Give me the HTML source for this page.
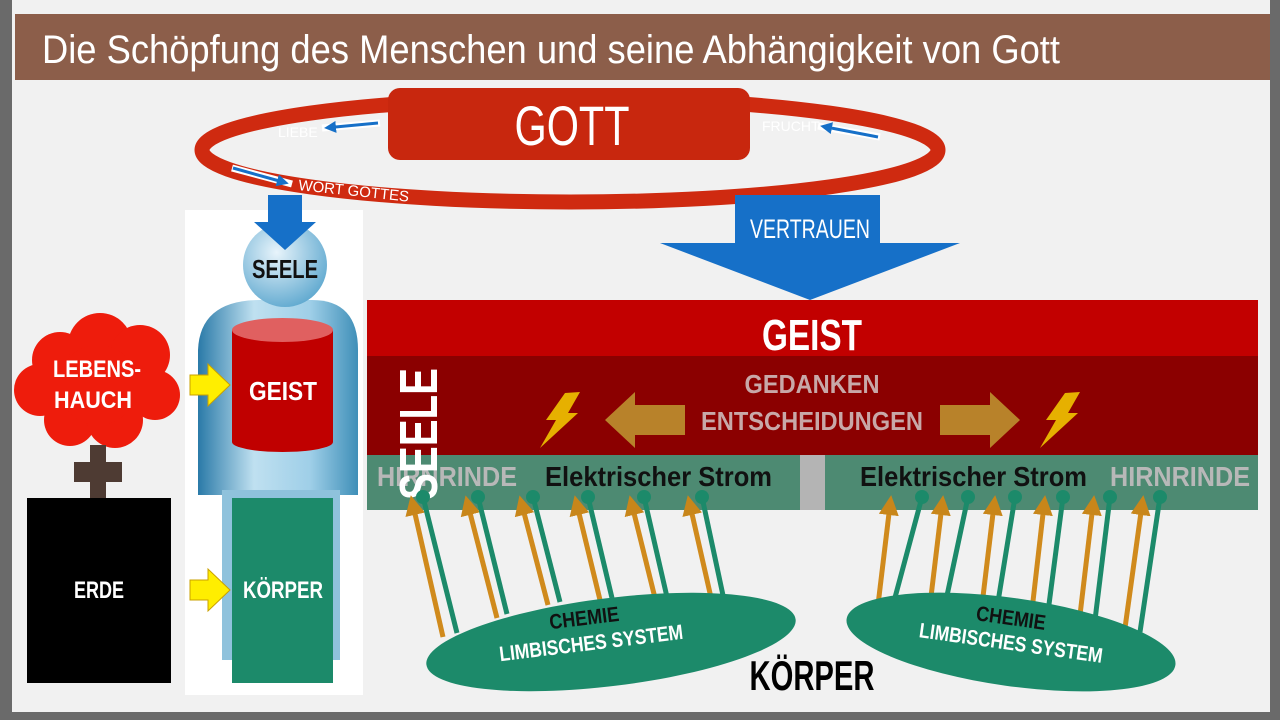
<!DOCTYPE html>
<html><head><meta charset="utf-8"><style>
html,body{margin:0;padding:0;width:1280px;height:720px;overflow:hidden;background:#555;}
svg{display:block;font-family:"Liberation Sans Narrow","Liberation Sans",sans-serif;}
</style></head><body>
<svg width="1280" height="720" viewBox="0 0 1280 720">
<defs>
<marker id="ao" markerWidth="4" markerHeight="4" refX="2" refY="2" orient="auto"><path d="M0,0 L4,2 L0,4z" fill="#c8861a"/></marker>
<marker id="ab" markerWidth="4" markerHeight="4" refX="2" refY="2" orient="auto"><path d="M0,0 L4,2 L0,4z" fill="#1670c8"/></marker>
<radialGradient id="hg" cx="0.4" cy="0.35" r="0.7"><stop offset="0" stop-color="#e8f4fb"/><stop offset="1" stop-color="#5ea8cf"/></radialGradient>
<linearGradient id="bg" x1="0" x2="1"><stop offset="0" stop-color="#2a7aa8"/><stop offset="0.35" stop-color="#bfe0f0"/><stop offset="0.7" stop-color="#9fcfe8"/><stop offset="1" stop-color="#3f8fb8"/></linearGradient>
</defs>
<rect x="0" y="0" width="1280" height="720" fill="#6a6a6a"/>
<rect x="12" y="0" width="1258" height="712" fill="#f1f1f1"/>
<rect x="15" y="14" width="1255" height="66" fill="#8c5e4a"/>
<text x="42" y="63" font-size="40" fill="#fff" textLength="1018" lengthAdjust="spacingAndGlyphs">Die Schöpfung des Menschen und seine Abhängigkeit von Gott</text>

<ellipse cx="570" cy="150" rx="368" ry="52" fill="none" stroke="#cf2a10" stroke-width="15"/>
<rect x="388" y="88" width="362" height="72" rx="12" fill="#c8270e"/>
<text x="572" y="145" font-size="56" fill="#fff" text-anchor="middle" textLength="115" lengthAdjust="spacingAndGlyphs">GOTT</text>
<text x="278" y="137" font-size="14" fill="#fff">LIEBE</text>
<line x1="380" y1="123" x2="322" y2="128" stroke="#fff" stroke-width="7"/><line x1="378" y1="123" x2="330" y2="127.5" stroke="#1670c8" stroke-width="3" marker-end="url(#ab)"/>
<text x="762" y="131" font-size="14" fill="#fff">FRUCHT</text>
<line x1="818" y1="126" x2="880" y2="137" stroke="#fff" stroke-width="7"/><line x1="878" y1="137" x2="826" y2="127" stroke="#1670c8" stroke-width="3" marker-end="url(#ab)"/>
<text x="298" y="190" font-size="15" fill="#fff" transform="rotate(6 298 190)">WORT GOTTES</text>
<line x1="232" y1="168" x2="292" y2="184" stroke="#fff" stroke-width="7"/><line x1="233" y1="168" x2="283" y2="182" stroke="#1670c8" stroke-width="3" marker-end="url(#ab)"/>

<path d="M735,195 H880 V243 H960 L810,300 L660,243 H735 Z" fill="#1670c8"/>
<text x="810" y="238" font-size="27" fill="#fff" text-anchor="middle" textLength="120" lengthAdjust="spacingAndGlyphs">VERTRAUEN</text>

<rect x="185" y="210" width="178" height="485" fill="#fff"/>
<path d="M198,350 Q200,300 260,300 H312 Q358,300 358,350 V495 H198 Z" fill="url(#bg)"/>
<rect x="222" y="490" width="118" height="170" fill="#8fc2dc"/>
<circle cx="285" cy="265" r="42" fill="url(#hg)"/>
<path d="M268,195 H302 V222 H316 L285,250 L254,222 H268 Z" fill="#1670c8"/>
<text x="285" y="278" font-size="26" font-weight="bold" fill="#111" text-anchor="middle" textLength="66" lengthAdjust="spacingAndGlyphs">SEELE</text>
<rect x="232" y="330" width="101" height="112" fill="#c00000"/>
<ellipse cx="282.5" cy="442" rx="50.5" ry="10" fill="#c00000"/>
<ellipse cx="282.5" cy="330" rx="50.5" ry="12" fill="#e06060"/>
<text x="283" y="400" font-size="26" font-weight="bold" fill="#fff" text-anchor="middle" textLength="68" lengthAdjust="spacingAndGlyphs">GEIST</text>
<rect x="232" y="498" width="101" height="185" fill="#1c8a6a"/>
<text x="283" y="598" font-size="24" font-weight="bold" fill="#fff" text-anchor="middle" textLength="80" lengthAdjust="spacingAndGlyphs">KÖRPER</text>
<path d="M190,375 H208 V364 L230,385 L208,406 V395 H190 Z" fill="#ffee00" stroke="#c9a000"/>
<path d="M190,580 H208 V569 L230,590 L208,611 V600 H190 Z" fill="#ffee00" stroke="#c9a000"/>

<g fill="#ee1c0c">
<circle cx="60" cy="360" r="28"/><circle cx="100" cy="345" r="32"/><circle cx="140" cy="355" r="30"/>
<circle cx="40" cy="390" r="26"/><circle cx="155" cy="395" r="25"/><circle cx="70" cy="420" r="26"/><circle cx="115" cy="420" r="28"/><circle cx="98" cy="385" r="40"/>
</g>
<text x="97" y="377" font-size="24" font-weight="bold" fill="#fff" text-anchor="middle" textLength="88" lengthAdjust="spacingAndGlyphs">LEBENS-</text>
<text x="93" y="408" font-size="24" font-weight="bold" fill="#fff" text-anchor="middle" textLength="78" lengthAdjust="spacingAndGlyphs">HAUCH</text>
<path d="M90,445 H106 V462 H122 V482 H106 V498 H90 V482 H74 V462 H90 Z" fill="#4e3b33"/>
<rect x="27" y="498" width="144" height="185" fill="#000"/>
<text x="99" y="598" font-size="24" font-weight="bold" fill="#fff" text-anchor="middle" textLength="50" lengthAdjust="spacingAndGlyphs">ERDE</text>

<rect x="367" y="300" width="891" height="56" fill="#c20000"/>
<text x="812" y="350" font-size="44" font-weight="bold" fill="#fff" text-anchor="middle" textLength="100" lengthAdjust="spacingAndGlyphs">GEIST</text>
<rect x="367" y="356" width="891" height="99" fill="#8b0000"/>
<text x="812" y="393" font-size="26" font-weight="bold" fill="#c8a8a8" text-anchor="middle" textLength="135" lengthAdjust="spacingAndGlyphs">GEDANKEN</text>
<text x="812" y="430" font-size="26" font-weight="bold" fill="#c8a8a8" text-anchor="middle" textLength="222" lengthAdjust="spacingAndGlyphs">ENTSCHEIDUNGEN</text>
<path d="M685,405 H635 V392 L605,420 L635,448 V435 H685 Z" fill="#b8822a"/>
<path d="M940,405 H990 V392 L1020,420 L990,448 V435 H940 Z" fill="#b8822a"/>
<path d="M565,393 L580,392 L568,413 L578,413 L540,448 L556,420 L546,420 Z" fill="#e6b000"/>
<path d="M1065,393 L1080,392 L1068,413 L1078,413 L1040,448 L1056,420 L1046,420 Z" fill="#e6b000"/>
<rect x="367" y="455" width="891" height="55" fill="#4d8a72"/>
<rect x="800" y="455" width="25" height="55" fill="#b4b4b4"/>
<text x="377" y="486" font-size="28" font-weight="bold" fill="#b8b8b8" textLength="140" lengthAdjust="spacingAndGlyphs">HIRNRINDE</text>
<text x="1110" y="486" font-size="28" font-weight="bold" fill="#b8b8b8" textLength="140" lengthAdjust="spacingAndGlyphs">HIRNRINDE</text>
<text x="545" y="486" font-size="28" font-weight="bold" fill="#111" textLength="227" lengthAdjust="spacingAndGlyphs">Elektrischer Strom</text>
<text x="860" y="486" font-size="28" font-weight="bold" fill="#111" textLength="227" lengthAdjust="spacingAndGlyphs">Elektrischer Strom</text>
<text x="0" y="0" font-size="54" font-weight="bold" fill="#fff" transform="translate(437,500) rotate(-90)" textLength="132" lengthAdjust="spacingAndGlyphs">SEELE</text>

<g stroke-width="5">
<line x1="443" y1="637" x2="413" y2="505" stroke="#d08a1c" marker-end="url(#ao)"/><line x1="457" y1="633" x2="423" y2="497" stroke="#1c8a6a"/>
<line x1="497" y1="618" x2="468" y2="505" stroke="#d08a1c" marker-end="url(#ao)"/><line x1="507" y1="614" x2="478" y2="497" stroke="#1c8a6a"/>
<line x1="548" y1="605" x2="522" y2="505" stroke="#d08a1c" marker-end="url(#ao)"/><line x1="560" y1="602" x2="533" y2="497" stroke="#1c8a6a"/>
<line x1="600" y1="600" x2="577" y2="505" stroke="#d08a1c" marker-end="url(#ao)"/><line x1="612" y1="598" x2="588" y2="497" stroke="#1c8a6a"/>
<line x1="655" y1="598" x2="632" y2="505" stroke="#d08a1c" marker-end="url(#ao)"/><line x1="667" y1="597" x2="644" y2="497" stroke="#1c8a6a"/>
<line x1="712" y1="602" x2="690" y2="505" stroke="#d08a1c" marker-end="url(#ao)"/><line x1="724" y1="600" x2="702" y2="497" stroke="#1c8a6a"/>
</g>
<g fill="#1c8a6a"><circle cx="423" cy="497" r="7"/><circle cx="478" cy="497" r="7"/><circle cx="533" cy="497" r="7"/><circle cx="588" cy="497" r="7"/><circle cx="644" cy="497" r="7"/><circle cx="702" cy="497" r="7"/></g>
<g stroke-width="5">
<line x1="878" y1="605" x2="890" y2="505" stroke="#d08a1c" marker-end="url(#ao)"/><line x1="893" y1="605" x2="922" y2="497" stroke="#1c8a6a"/>
<line x1="930" y1="605" x2="942" y2="505" stroke="#d08a1c" marker-end="url(#ao)"/><line x1="945" y1="605" x2="968" y2="497" stroke="#1c8a6a"/>
<line x1="982" y1="605" x2="994" y2="505" stroke="#d08a1c" marker-end="url(#ao)"/><line x1="997" y1="608" x2="1015" y2="497" stroke="#1c8a6a"/>
<line x1="1032" y1="610" x2="1044" y2="505" stroke="#d08a1c" marker-end="url(#ao)"/><line x1="1048" y1="612" x2="1063" y2="497" stroke="#1c8a6a"/>
<line x1="1080" y1="615" x2="1093" y2="505" stroke="#d08a1c" marker-end="url(#ao)"/><line x1="1095" y1="620" x2="1110" y2="497" stroke="#1c8a6a"/>
<line x1="1125" y1="628" x2="1142" y2="505" stroke="#d08a1c" marker-end="url(#ao)"/><line x1="1140" y1="632" x2="1160" y2="497" stroke="#1c8a6a"/>
</g>
<g fill="#1c8a6a"><circle cx="922" cy="497" r="7"/><circle cx="968" cy="497" r="7"/><circle cx="1015" cy="497" r="7"/><circle cx="1063" cy="497" r="7"/><circle cx="1110" cy="497" r="7"/><circle cx="1160" cy="497" r="7"/></g>

<ellipse cx="611" cy="642" rx="186" ry="44" fill="#1c8a6a" transform="rotate(-7 611 642)"/>
<text x="0" y="0" font-size="21" font-weight="bold" fill="#111" text-anchor="middle" transform="translate(585,625) rotate(-7)" textLength="70" lengthAdjust="spacingAndGlyphs">CHEMIE</text>
<text x="0" y="0" font-size="21" font-weight="bold" fill="#fff" text-anchor="middle" transform="translate(592,650) rotate(-7)" textLength="185" lengthAdjust="spacingAndGlyphs">LIMBISCHES SYSTEM</text>
<ellipse cx="1011" cy="642" rx="166" ry="44" fill="#1c8a6a" transform="rotate(8 1011 642)"/>
<text x="0" y="0" font-size="21" font-weight="bold" fill="#111" text-anchor="middle" transform="translate(1010,625) rotate(8)" textLength="70" lengthAdjust="spacingAndGlyphs">CHEMIE</text>
<text x="0" y="0" font-size="21" font-weight="bold" fill="#fff" text-anchor="middle" transform="translate(1010,650) rotate(8)" textLength="185" lengthAdjust="spacingAndGlyphs">LIMBISCHES SYSTEM</text>
<text x="812" y="690" font-size="42" font-weight="bold" fill="#000" text-anchor="middle" textLength="125" lengthAdjust="spacingAndGlyphs">KÖRPER</text>
</svg>
</body></html>
